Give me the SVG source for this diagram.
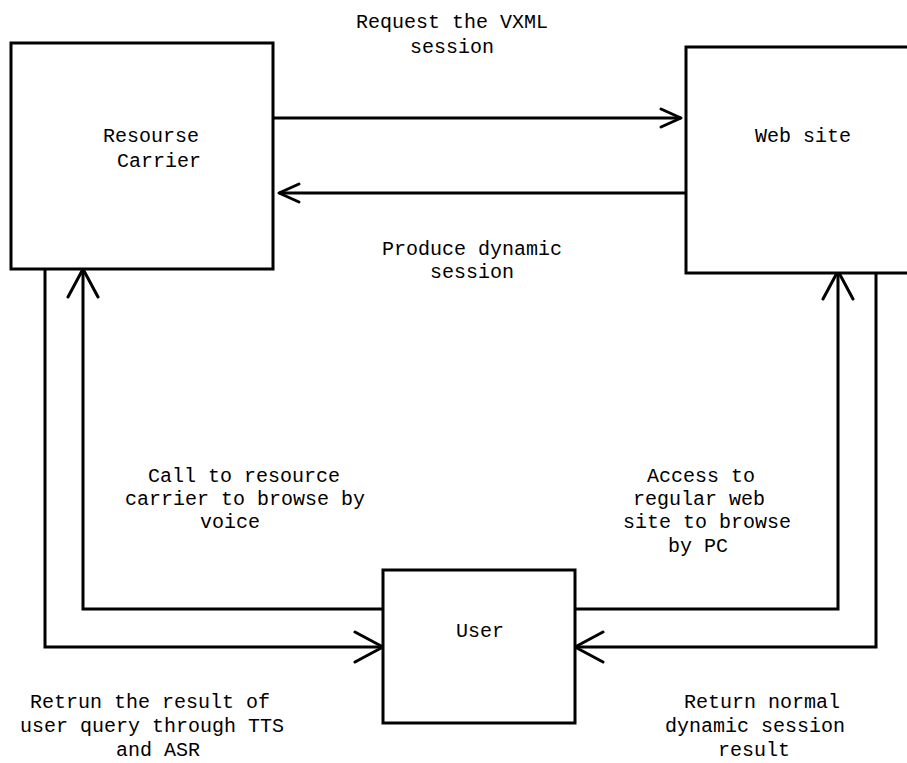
<svg xmlns="http://www.w3.org/2000/svg" width="907" height="763" viewBox="0 0 907 763">
  <style>
    .box { fill: #fff; stroke: #000; stroke-width: 3; }
    .wire { fill: none; stroke: #000; stroke-width: 3; }
    text { font-family: "Liberation Mono", "DejaVu Sans Mono", monospace; font-size: 20px; fill: #000; }
  </style>
  <defs>
    <marker id="headSmall" markerUnits="userSpaceOnUse" viewBox="-24 -12 28 24" refX="0" refY="0" markerWidth="28" markerHeight="24" orient="auto">
      <path d="M-20,-9 L0,0 L-20,9" fill="none" stroke="#000" stroke-width="3" stroke-linecap="round" stroke-linejoin="round"/>
    </marker>
    <marker id="headBig" markerUnits="userSpaceOnUse" viewBox="-32 -17 36 34" refX="0" refY="0" markerWidth="36" markerHeight="34" orient="auto">
      <path d="M-28,-15 L0,0 L-28,15" fill="none" stroke="#000" stroke-width="3" stroke-linecap="round" stroke-linejoin="round"/>
    </marker>
  </defs>

  <g id="connectors">
    <path class="wire" d="M273,118 H681" marker-end="url(#headSmall)"/>
    <path class="wire" d="M686,193 H279" marker-end="url(#headSmall)"/>
    <path class="wire" d="M383,609 H83 V269" marker-end="url(#headBig)"/>
    <path class="wire" d="M45,269 V647 H383" marker-end="url(#headBig)"/>
    <path class="wire" d="M575,609 H838 V271" marker-end="url(#headBig)"/>
    <path class="wire" d="M876,273 V647 H575" marker-end="url(#headBig)"/>
  </g>

  <g id="resource-carrier">
    <rect class="box" x="11" y="43" width="262" height="226"/>
    <text x="103" y="142">Resourse</text>
    <text x="117" y="167">Carrier</text>
  </g>

  <g id="web-site">
    <rect class="box" x="686" y="47" width="240" height="226"/>
    <text x="755" y="142">Web site</text>
  </g>

  <g id="user">
    <rect class="box" x="383" y="570" width="192" height="153"/>
    <text x="456" y="637">User</text>
  </g>

  <g id="labels">
    <text x="356" y="28">Request the VXML</text>
    <text x="410" y="53">session</text>

    <text x="382" y="255">Produce dynamic</text>
    <text x="430" y="278">session</text>

    <text x="148" y="482">Call to resource</text>
    <text x="125" y="505">carrier to browse by</text>
    <text x="200" y="528">voice</text>

    <text x="647" y="482">Access to</text>
    <text x="633" y="505">regular web</text>
    <text x="623" y="528">site to browse</text>
    <text x="668" y="552">by PC</text>

    <text x="30" y="708">Retrun the result of</text>
    <text x="20" y="732">user query through TTS</text>
    <text x="116" y="756">and ASR</text>

    <text x="684" y="708">Return normal</text>
    <text x="665" y="732">dynamic session</text>
    <text x="718" y="756">result</text>
  </g>
</svg>
